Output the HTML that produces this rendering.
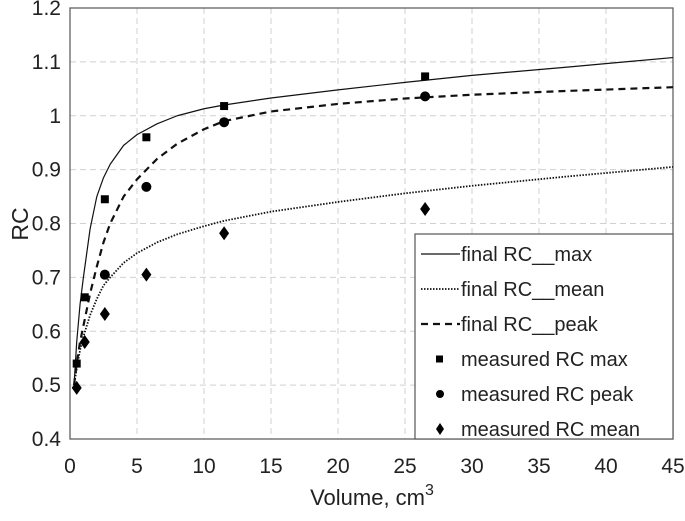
<!DOCTYPE html>
<html><head><meta charset="utf-8"><style>
body{margin:0;background:#fff;}
svg{font-family:"Liberation Sans",sans-serif;}
</style></head><body>
<svg id="chart" width="685" height="516"></svg>
<script>
const curveVol=[0.3,0.5,0.75,1,1.5,2,2.5,3,4,5,6.5,8,10,11.5,15,20,25,30,37,45];
const finalMax=[0.5,0.58,0.65,0.7,0.79,0.85,0.885,0.91,0.945,0.965,0.985,1.0,1.013,1.02,1.033,1.048,1.062,1.075,1.09,1.108];
const finalPeak=[0.5,0.54,0.58,0.61,0.67,0.72,0.765,0.8,0.85,0.882,0.92,0.948,0.975,0.99,1.008,1.022,1.032,1.039,1.046,1.053];
const finalMean=[0.5,0.53,0.565,0.59,0.63,0.66,0.685,0.7,0.727,0.745,0.765,0.78,0.795,0.805,0.822,0.84,0.856,0.87,0.887,0.905];
const measVol=[0.5,1.1,2.6,5.7,11.5,26.5];
const measMax=[0.54,0.663,0.845,0.96,1.018,1.073];
const measPeak=[null,null,0.705,0.868,0.988,1.036];
const measMean=[0.495,0.58,0.632,0.705,0.782,0.827];
const xTicks=[0,5,10,15,20,25,30,35,40,45];
const yTicks=[0.4,0.5,0.6,0.7,0.8,0.9,1,1.1,1.2];

const NS="http://www.w3.org/2000/svg",svg=document.getElementById('chart');
const L=70,R=673,T=8,B=439;
const X=v=>L+(v/45)*(R-L), Y=v=>B-(v-0.4)/0.8*(B-T);
function mk(t,a,p){const e=document.createElementNS(NS,t);for(const k in a)e.setAttribute(k,a[k]);(p||svg).appendChild(e);return e;}
xTicks.forEach(t=>{
 if(t>0&&t<45){const g=mk('line',{x1:X(t),x2:X(t),y1:T,y2:B,stroke:'#d0d0d0','stroke-dasharray':'6,4'});
 
 }
 const s=mk('text',{x:X(t),y:473,'text-anchor':'middle','font-size':21,fill:'#222'});s.textContent=t;
 
 
});
yTicks.forEach(t=>{
 if(t>0.4&&t<1.2){const g=mk('line',{x1:L,x2:R,y1:Y(t),y2:Y(t),stroke:'#d0d0d0','stroke-dasharray':'6,4'});
 
 }
 const s=mk('text',{x:61,y:Y(t)+7,'text-anchor':'end','font-size':21,fill:'#222'});s.textContent=String(t);
 
 
});
const fr=mk('rect',{x:L,y:T,width:R-L,height:B-T,fill:'none',stroke:'#555','stroke-width':1.2});


function line(vals,dash,w,name){
 const p=mk('polyline',{points:curveVol.map((v,i)=>X(v)+','+Y(vals[i])).join(' '),fill:'none',stroke:'#111','stroke-width':w,'stroke-dasharray':dash,'stroke-linejoin':'round'});
 
 
}
line(finalMax,'none',1.2,'final-rc-max-line');
line(finalMean,'1.5,1.5',1.8,'final-rc-mean-line');
line(finalPeak,'7,5',2.2,'final-rc-peak-line');
function sq(x,y){return mk('rect',{x:x-4,y:y-4,width:8,height:8,fill:'#000'});}
function ci(x,y){return mk('circle',{cx:x,cy:y,r:5,fill:'#000'});}
function di(x,y){return mk('polygon',{points:`${x},${y-7} ${x+5},${y} ${x},${y+7} ${x-5},${y}`,fill:'#000'});}
measVol.forEach((v,i)=>{
 let m=sq(X(v),Y(measMax[i]));
 
 
 if(measPeak[i]!=null){m=ci(X(v),Y(measPeak[i]));
 
 }
 m=di(X(v),Y(measMean[i]));
 
 
});
const lg=mk('g',{});


mk('rect',{x:415,y:234,width:258,height:205,fill:'#fff',stroke:'#555','stroke-width':1.2},lg);
const labels=['final RC__max','final RC__mean','final RC__peak','measured RC max','measured RC peak','measured RC mean'];
labels.forEach((lb,i)=>{
 const y=254+i*35;
 if(i==0)mk('line',{x1:421,x2:460,y1:y,y2:y,stroke:'#111','stroke-width':1.2},lg);
 if(i==1)mk('line',{x1:421,x2:460,y1:y,y2:y,stroke:'#111','stroke-width':1.8,'stroke-dasharray':'1.5,1.5'},lg);
 if(i==2)mk('line',{x1:421,x2:460,y1:y,y2:y,stroke:'#111','stroke-width':2.2,'stroke-dasharray':'7,5'},lg);
 if(i==3)mk('rect',{x:436,y:y-3.5,width:7,height:7,fill:'#000'},lg);
 if(i==4)mk('circle',{cx:440,cy:y,r:4,fill:'#000'},lg);
 if(i==5)mk('polygon',{points:`440,${y-6} 444,${y} 440,${y+6} 436,${y}`,fill:'#000'},lg);
 const t=mk('text',{x:461,y:y+7,'font-size':20,fill:'#222'},lg);t.textContent=lb;
 
 
});
const xl=mk('text',{x:372,y:505,'text-anchor':'middle','font-size':22,fill:'#222'});
xl.innerHTML='Volume, cm<tspan dy="-10" font-size="16">3</tspan>';


const yl=mk('text',{x:0,y:0,'text-anchor':'middle','font-size':23,fill:'#222',transform:'translate(28,224) rotate(-90)'});
yl.textContent='RC';


</script>
</body></html>
